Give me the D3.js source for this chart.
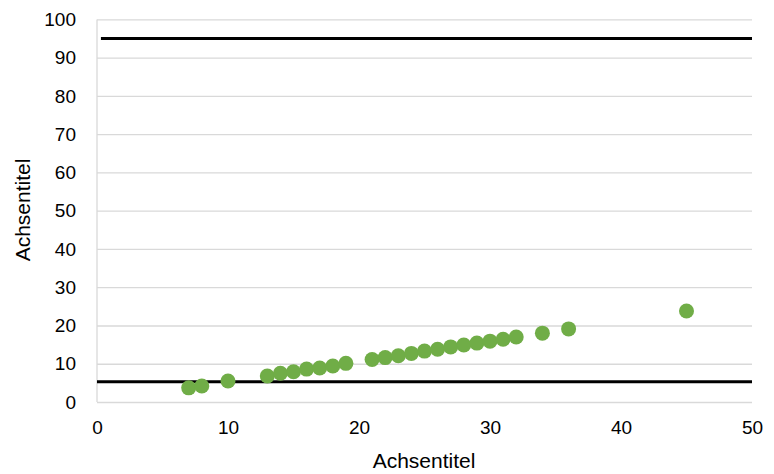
<!DOCTYPE html>
<html>
<head>
<meta charset="utf-8">
<script src="https://cdn.jsdelivr.net/npm/d3@7"></script>
<style>
  html, body { margin: 0; padding: 0; background: #fff; }
  svg { display: block; font-family: "Liberation Sans", Arial, sans-serif; }
</style>
</head>
<body>
<svg id="chart" width="774" height="474"></svg>
<script>
// Measured points
const xValues = [7, 8, 10, 13, 14, 15, 16, 17, 18, 19, 21, 22, 23, 24, 25, 26, 27, 28, 29, 30, 31, 32, 34, 36, 45];
const yValues = [3.7, 4.2, 5.5, 6.8, 7.5, 7.9, 8.6, 8.9, 9.4, 10.1, 11.1, 11.6, 12.1, 12.7, 13.3, 13.8, 14.4, 14.9, 15.4, 15.9, 16.4, 17.0, 18.0, 19.1, 23.8];

// Upper and lower limit lines
const upperLimitX = [0.3, 50];
const upperLimitY = [95, 95];
const lowerLimitX = [0, 50];
const lowerLimitY = [5.3, 5.3];

// Axis ticks and titles
const xTicks = [0, 10, 20, 30, 40, 50];
const yTicks = [0, 10, 20, 30, 40, 50, 60, 70, 80, 90, 100];
const xTitle = "Achsentitel";
const yTitle = "Achsentitel";

const svg = d3.select("#chart");
const margin = { left: 97, right: 22, top: 19.4, bottom: 72 };
const W = 774, H = 474;

const x = d3.scaleLinear().domain([0, 50]).range([margin.left, W - margin.right]);
const y = d3.scaleLinear().domain([0, 100]).range([H - margin.bottom, margin.top]);

// Horizontal gridlines with y tick labels
const yAxis = svg.append("g")
  .attr("transform", `translate(${margin.left},0)`)
  .call(d3.axisLeft(y).tickValues(yTicks).tickSize(-(W - margin.right - margin.left)).tickPadding(21));
yAxis.select(".domain").remove();
yAxis.selectAll(".tick line").attr("stroke", "#d9d9d9").attr("stroke-width", 1.3);
yAxis.selectAll(".tick text").attr("fill", "#000").style("font-size", "19px");

// Left axis line
svg.append("line")
  .attr("x1", x(0)).attr("x2", x(0))
  .attr("y1", y(100)).attr("y2", y(0))
  .attr("stroke", "#d9d9d9").attr("stroke-width", 1.3);

// X tick labels
const xAxis = svg.append("g")
  .attr("transform", `translate(0,${y(0)})`)
  .call(d3.axisBottom(x).tickValues(xTicks).tickSize(0).tickPadding(19));
xAxis.select(".domain").remove();
xAxis.selectAll(".tick text").attr("fill", "#000").style("font-size", "19px");

// Limit lines
const line = d3.line().x(d => x(d[0])).y(d => y(d[1]));
[[upperLimitX, upperLimitY], [lowerLimitX, lowerLimitY]].forEach(([xs, ys]) => {
  svg.append("path")
    .datum(xs.map((v, i) => [v, ys[i]]))
    .attr("d", line)
    .attr("fill", "none")
    .attr("stroke", "#000")
    .attr("stroke-width", 3);
});

// Scatter points
svg.append("g")
  .selectAll("circle")
  .data(xValues.map((v, i) => [v, yValues[i]]))
  .join("circle")
  .attr("cx", d => x(d[0]))
  .attr("cy", d => y(d[1]))
  .attr("r", 7.5)
  .attr("fill", "#70ad47");

// Axis titles
svg.append("text")
  .attr("x", 424).attr("y", 468)
  .attr("text-anchor", "middle")
  .style("font-size", "21px")
  .attr("fill", "#000")
  .text(xTitle);

svg.append("text")
  .attr("transform", "translate(30,210) rotate(-90)")
  .attr("text-anchor", "middle")
  .style("font-size", "21px")
  .attr("fill", "#000")
  .text(yTitle);
</script>
</body>
</html>
